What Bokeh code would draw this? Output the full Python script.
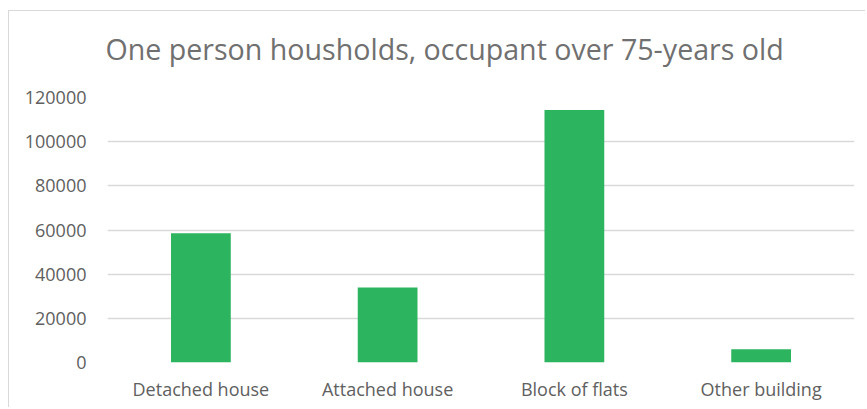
from bokeh.plotting import figure
from bokeh.models import FactorRange, Range1d, FixedTicker, ColumnDataSource
from bokeh.embed import file_html
from bokeh.resources import INLINE

categories = ["Detached house", "Attached house", "Block of flats", "Other building"]
values = [58500, 34000, 114300, 6000]
y_ticks = [0, 20000, 40000, 60000, 80000, 100000, 120000]
title_text = "One person housholds, occupant over 75-years old"

src = ColumnDataSource(dict(cat=categories, val=values))

p = figure(
    width=857, height=397,
    x_range=FactorRange(*categories),
    y_range=Range1d(0, 120000),
    output_backend="svg", toolbar_location=None,
    min_border_left=98, min_border_right=12, min_border_bottom=46, min_border_top=86,
)
p.styles = {"border-top": "1px solid #d9d9d9", "border-left": "1px solid #d9d9d9",
            "margin-top": "10px", "margin-left": "8px"}

p.vbar(x="cat", top="val", width=0.32, source=src, fill_color="#2cb45f", line_color=None)

p.title.text = title_text
p.title.align = "left"
p.title.offset = -2
p.title.text_font = "Open Sans"
p.title.text_font_size = "28.6px"
p.title.text_font_style = "normal"
p.title.text_color = "#707070"
p.title.standoff = 26
p.title.padding = dict(left=0, right=0, top=0, bottom=17)

p.outline_line_color = None
p.xgrid.grid_line_color = None
p.ygrid.grid_line_color = "#d9d9d9"
p.ygrid.grid_line_width = 1.3
p.yaxis.ticker = FixedTicker(ticks=y_ticks)

for ax in (p.xaxis, p.yaxis):
    ax.axis_line_color = None
    ax.major_tick_line_color = None
    ax.minor_tick_line_color = None
    ax.major_tick_out = 0
    ax.major_tick_in = 0
    ax.major_label_text_font = "Open Sans"
    ax.major_label_text_font_size = "18px"
    ax.major_label_text_color = "#606060"

p.yaxis.major_label_standoff = 21
p.yaxis.formatter.use_scientific = False
p.xaxis.major_label_standoff = 14

open("out.html", "w").write(file_html(p, INLINE))
